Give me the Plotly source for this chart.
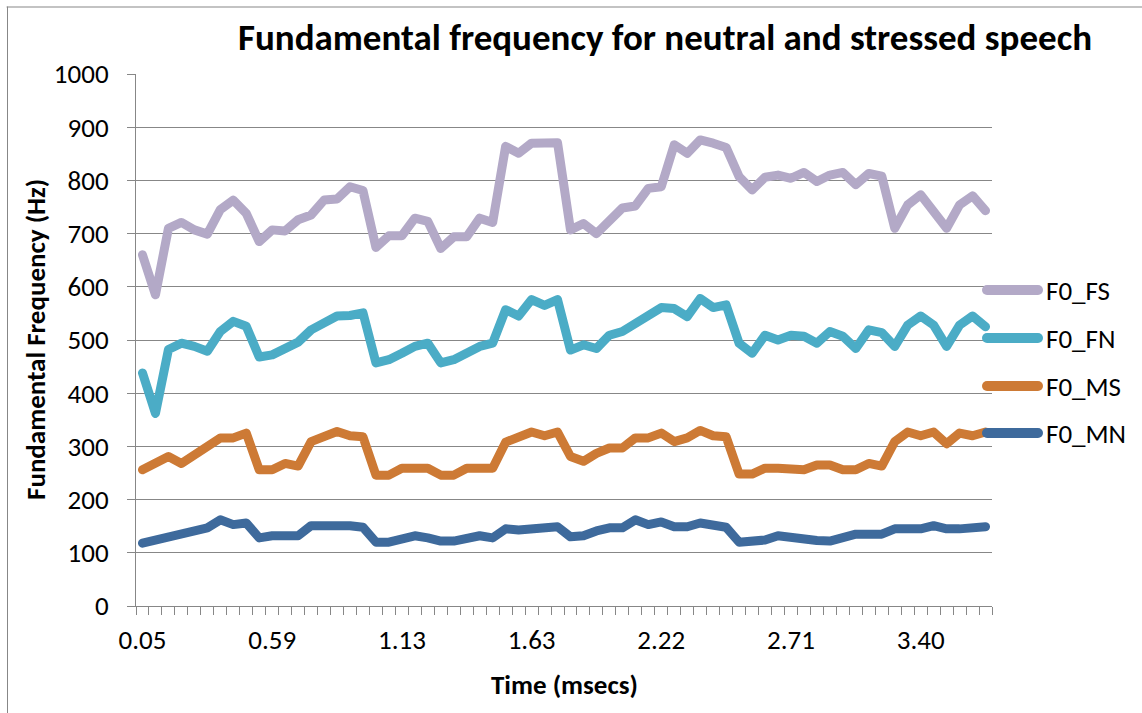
import plotly.graph_objects as go

# ---------------- data ----------------
f0_fs = [660, 585, 710, 721, 707, 699, 745, 763, 738, 685, 707, 705, 726, 735, 763, 765, 788, 781,
         674, 696, 696, 729, 723, 672, 694, 694, 729, 721, 864, 851, 870, 870, 871, 707, 719, 700,
         726, 748, 752, 785, 788, 867, 851, 876, 870, 862, 807, 782, 806, 810, 804, 815, 798, 810,
         815, 792, 813, 808, 710, 754, 773, 741, 710, 754, 771, 743]
f0_fn = [438, 362, 482, 494, 488, 479, 516, 535, 526, 468, 472, 482, 496, 519, 532, 545, 546, 551,
         457, 463, 475, 488, 494, 457, 463, 475, 488, 494, 557, 545, 576, 565, 576, 481, 491, 484,
         509, 516, 532, 545, 561, 559, 544, 578, 561, 566, 494, 475, 509, 500, 509, 507, 494, 516,
         507, 484, 519, 514, 488, 528, 545, 528, 488, 528, 545, 525]
f0_ms = [256, 268, 281, 268, 284, 295, 316, 316, 325, 256, 256, 268, 263, 309, 318, 328, 320, 318,
         246, 246, 259, 259, 259, 246, 246, 259, 259, 259, 308, 316, 327, 320, 327, 281, 272, 287,
         297, 297, 316, 316, 325, 309, 316, 330, 320, 318, 248, 248, 259, 259, 259, 256, 265, 265,
         256, 256, 268, 263, 309, 327, 320, 327, 305, 325, 320, 327]
f0_mn = [118, 124, 132, 134, 141, 147, 162, 153, 156, 128, 132, 132, 132, 151, 151, 154, 151, 148,
         120, 120, 124, 132, 128, 122, 122, 126, 132, 128, 145, 143, 145, 145, 149, 130, 132, 141,
         147, 147, 162, 153, 158, 149, 149, 156, 151, 148, 120, 120, 124, 132, 128, 128, 123, 122,
         130, 135, 135, 135, 145, 145, 145, 151, 145, 145, 145, 149]

sample_index = list(range(len(f0_fs)))
time_label_index = [0, 10, 20, 30, 40, 50, 60]
time_labels = ["0.05", "0.59", "1.13", "1.63", "2.22", "2.71", "3.40"]

series_names = ["F0_FS", "F0_FN", "F0_MS", "F0_MN"]
series_values = [f0_fs, f0_fn, f0_ms, f0_mn]
series_colors = ["#B3A9C7", "#4BACC6", "#CD7A35", "#3E6A9C"]

# ---------------- styling ----------------
FONT = "Carlito, Calibri, Lato, sans-serif"
GRID = "#878787"
W, H = 1142, 713
L, R, T, B = 136, 150, 74, 107
PW, PH = W - L - R, H - T - B
TXT = 27


def px_x(px):
    return (px - L) / PW


def px_y(py):
    return (H - B - py) / PH


fig = go.Figure()
for name, vals, col in zip(series_names, series_values, series_colors):
    fig.add_trace(go.Scatter(x=sample_index, y=vals, mode="lines", name=name,
                             line=dict(color=col, width=9), showlegend=False,
                             hoverinfo="x+y+name"))

shapes = []
annotations = []
# custom legend (Excel-like long line samples)
legend_y = [290, 338, 386, 433]
for name, col, ly in zip(series_names, series_colors, legend_y):
    shapes.append(dict(type="line", xref="paper", yref="paper",
                       x0=px_x(987), x1=px_x(1038), y0=px_y(ly), y1=px_y(ly),
                       line=dict(color=col, width=10)))
    annotations.append(dict(text=name, xref="paper", yref="paper", x=px_x(1044), y=px_y(ly),
                            xanchor="left", yanchor="middle", showarrow=False,
                            font=dict(family=FONT, size=TXT, color="#000000")))

# chart area border (left and top edges visible)
shapes.append(dict(type="line", xref="paper", yref="paper", x0=px_x(7.5), x1=px_x(7.5),
                   y0=px_y(7), y1=px_y(720), line=dict(color=GRID, width=1)))
shapes.append(dict(type="line", xref="paper", yref="paper", x0=px_x(7), x1=px_x(1150),
                   y0=px_y(7), y1=px_y(7), line=dict(color=GRID, width=1)))

# axis titles
annotations.append(dict(text="<b>Time (msecs)</b>", xref="paper", yref="paper",
                        x=px_x(564), y=px_y(684), xanchor="center", yanchor="middle",
                        showarrow=False, font=dict(family=FONT, size=TXT, color="#000000")))
annotations.append(dict(text="<b>Fundamental Frequency (Hz)</b>", xref="paper", yref="paper",
                        x=px_x(35), y=px_y(340), xanchor="center", yanchor="middle",
                        textangle=-90, showarrow=False,
                        font=dict(family=FONT, size=TXT, color="#000000")))

fig.update_layout(
    width=W, height=H,
    margin=dict(l=L, r=R, t=T, b=B, autoexpand=False),
    paper_bgcolor="#FFFFFF", plot_bgcolor="#FFFFFF",
    title=dict(text="<b>Fundamental frequency for neutral and stressed speech</b>",
               xref="container", yref="container", x=665 / W, y=1 - 37 / H,
               xanchor="center", yanchor="middle",
               font=dict(family=FONT, size=37, color="#000000")),
    font=dict(family=FONT, size=TXT, color="#000000"),
    shapes=shapes, annotations=annotations,
    showlegend=False,
    xaxis=dict(range=[-0.5, len(sample_index) - 0.5], showgrid=False, zeroline=False,
               showline=True, linecolor=GRID, linewidth=1,
               tickmode="array", tickvals=time_label_index, ticktext=time_labels,
               ticks="", ticklabelstandoff=10,
               tickfont=dict(family=FONT, size=TXT, color="#000000"),
               minor=dict(tickmode="array",
                          tickvals=[i - 0.5 for i in range(len(sample_index) + 1)],
                          ticks="outside", ticklen=8, tickwidth=1, tickcolor=GRID,
                          showgrid=False)),
    yaxis=dict(range=[0, 1000], dtick=100, tick0=0, showgrid=True, gridcolor=GRID,
               gridwidth=1, zeroline=False, showline=True, linecolor=GRID, linewidth=1,
               ticks="outside", ticklen=8, tickwidth=1, tickcolor=GRID,
               ticklabelstandoff=13,
               tickfont=dict(family=FONT, size=TXT, color="#000000")),
)

post = """
var s = document.createElement('style');
s.innerHTML = '.scatterlayer path.js-line{stroke-linejoin:round !important;stroke-linecap:round !important;} .shapelayer path{stroke-linecap:round;}';
document.head.appendChild(s);
"""
fig.write_html("out.html", post_script=post)
